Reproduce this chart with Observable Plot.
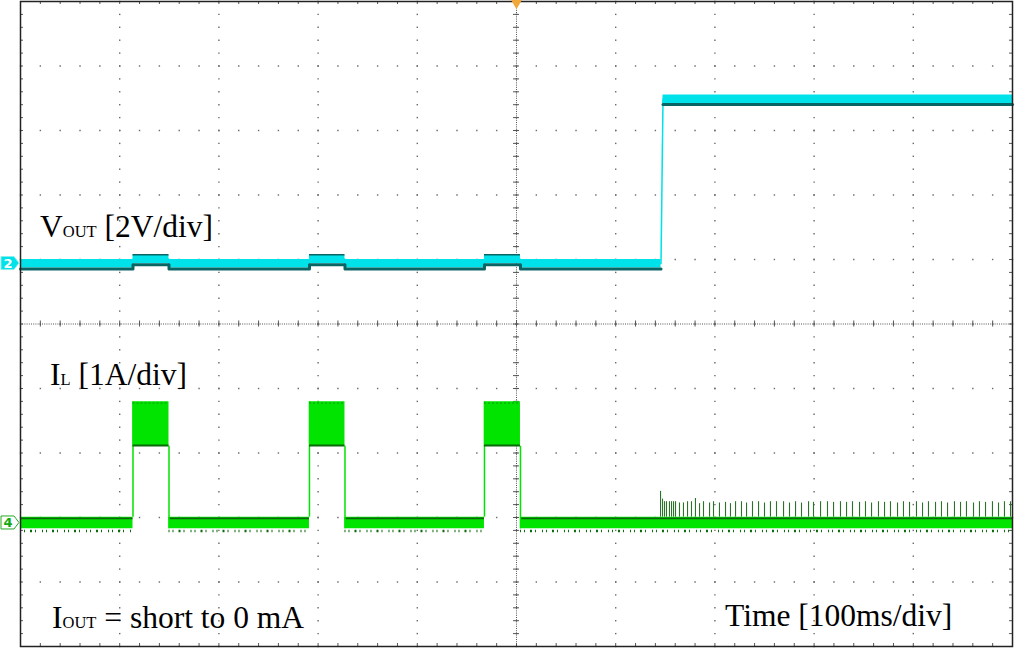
<!DOCTYPE html>
<html><head><meta charset="utf-8">
<script src="https://cdn.jsdelivr.net/npm/d3@7"></script>
<script src="https://cdn.jsdelivr.net/npm/@observablehq/plot@0.6"></script>
<style>
html,body{margin:0;padding:0;background:#fff;}
#chart svg{display:block;}
</style>
</head><body><div id="chart"></div>
<script>
// ---------------- data (read from the scope capture) ----------------
const msPerDiv = 100;            // Time [100ms/div]
const voltsPerDiv = 2;           // VOUT [2V/div]
const ampsPerDiv = 1;            // IL [1A/div]
const ch2GroundDiv = 0.938;      // CH2 ground marker (divisions from centre)
const ch4GroundDiv = -3.085;     // CH4 ground marker

// hiccup pulses (short circuit)
const pulseStartMs = [113.4, 291.3, 467.7];
const pulseEndMs   = [149.7, 327.1, 504.0];
const ilPulseHighA = [1.88, 1.88, 1.88];
const ilPulseLowA  = [1.19, 1.19, 1.19];
const voutPulseV   = [0.13, 0.13, 0.13];

// short removed -> output rises
const voutStepMs = [645.7, 647.7];
const voutLevelV = [0.0, 5.1];

// inductor-current spikes after the short is removed (0 mA load, pulse skipping)
const ilSpikeMs = [645.2, 647.2, 649.2, 651.2, 654.2, 656.3, 658.3, 660.3, 664.3, 668.3, 672.4, 676.4,
  680.4, 684.5, 688.5, 694.6, 698.6, 704.6, 710.7, 715.7, 720.8, 726.8, 731.9, 737.9, 744.0, 750.0,
  756.0, 762.1, 769.2, 775.2, 781.3, 787.3, 794.4, 799.4, 806.5, 813.5, 819.6, 826.6, 832.7, 838.7,
  845.8, 851.8, 857.9, 864.9, 871.0, 877.0, 884.1, 890.1, 896.2, 903.2, 909.3, 915.3, 922.4, 928.4,
  934.5, 941.5, 947.6, 953.6, 960.7, 966.7, 972.8, 979.8, 985.9, 991.9, 998.0];
const ilSpikeA = [0.49, 0.37, 0.33, 0.33, 0.33, 0.33, 0.33, 0.33, 0.31, 0.31, 0.33, 0.33,
  0.38, 0.30, 0.33, 0.31, 0.33, 0.31, 0.32, 0.30, 0.33, 0.33, 0.31, 0.33, 0.33, 0.31,
  0.33, 0.33, 0.33, 0.31, 0.33, 0.31, 0.33, 0.32, 0.33, 0.33, 0.32, 0.33, 0.32, 0.33,
  0.32, 0.33, 0.31, 0.33, 0.32, 0.33, 0.31, 0.33, 0.32, 0.33, 0.31, 0.33, 0.32, 0.33,
  0.31, 0.33, 0.32, 0.33, 0.31, 0.33, 0.32, 0.33, 0.31, 0.33, 0.33];

// ---------------- derived tables ----------------
const v2div = v => ch2GroundDiv + v / voltsPerDiv;
const a2div = a => ch4GroundDiv + a / ampsPerDiv;
const ILBAND = 0.09; // half width of the noisy IL baseline (A)
const END = 10 * msPerDiv;

// VOUT centre line
const vPts = [{t: 0, v: voutLevelV[0], seg: 0}];
pulseStartMs.forEach((s, i) => {
  vPts.push({t: s, v: voutLevelV[0], seg: 0}, {t: s, v: voutPulseV[i], seg: 0},
            {t: pulseEndMs[i], v: voutPulseV[i], seg: 0}, {t: pulseEndMs[i], v: voutLevelV[0], seg: 0});
});
vPts.push({t: voutStepMs[0], v: voutLevelV[0], seg: 0}, {t: voutStepMs[1], v: voutLevelV[1], seg: 1},
          {t: END, v: voutLevelV[1], seg: 1});

// IL envelope
const iPts = [{t: 0, lo: -ILBAND, hi: ILBAND}];
pulseStartMs.forEach((s, i) => {
  iPts.push({t: s, lo: -ILBAND, hi: ILBAND}, {t: s, lo: ilPulseLowA[i], hi: ilPulseHighA[i]},
            {t: pulseEndMs[i], lo: ilPulseLowA[i], hi: ilPulseHighA[i]}, {t: pulseEndMs[i], lo: -ILBAND, hi: ILBAND});
});
iPts.push({t: END, lo: -ILBAND, hi: ILBAND});
// baseline (between pulses) segments
const segStarts = [0, ...pulseEndMs];
const segEnds = [...pulseStartMs, END];
const baseSegs = segStarts.map((s, i) => ({s, e: segEnds[i]}));
const pulses = pulseStartMs.map((s, i) => ({s, e: pulseEndMs[i], lo: ilPulseLowA[i], hi: ilPulseHighA[i], v: voutPulseV[i]}));
const spikes = ilSpikeMs.map((t, i) => ({t, a: ilSpikeA[i]}));

// grid helpers
const majorX = d3.range(0, END + 1, msPerDiv);
const minorX = d3.range(0, END + 1, msPerDiv / 5);
const majorY = d3.range(-5, 6, 1);
const minorY = d3.range(0, 51).map(k => -5 + k * 0.2);

const CYAN = "#00e2ea", TEAL = "#0b6464", GREEN = "#00e400", DKGREEN = "#0b6a0b", GRID = "#6a6a6a";
const tx = 3 * msPerDiv / 99.2;   // ~3 px in time units
const ty = 3 / 64.5;              // ~3 px in divisions

const plot = Plot.plot({
  width: 1016, height: 648,
  marginLeft: 20, marginRight: 4, marginTop: 1, marginBottom: 2,
  x: {domain: [0, END], axis: null},
  y: {domain: [-5, 5], axis: null},
  style: {background: "#fff"},
  marks: [
    // dotted graticule
    Plot.dot(d3.cross(majorX.slice(1, -1), minorY), {x: d => d[0], y: d => d[1], r: 0.8, fill: GRID, symbol: "square"}),
    Plot.dot(d3.cross(minorX, majorY.slice(1, -1)), {x: d => d[0], y: d => d[1], r: 0.8, fill: GRID, symbol: "square"}),
    // centre cross
    Plot.ruleX([5 * msPerDiv], {stroke: "#555", strokeDasharray: "1,1.2"}),
    Plot.ruleY([0], {stroke: "#555", strokeDasharray: "1,1.2"}),
    Plot.ruleY(minorY, {y: d => d, x1: 5 * msPerDiv - tx, x2: 5 * msPerDiv + tx, stroke: "#555"}),
    Plot.ruleX(minorX, {x: d => d, y1: -ty, y2: ty, stroke: "#555"}),
    // border minor ticks
    Plot.ruleX(minorX, {x: d => d, y1: 5, y2: 5 - ty, stroke: "#555"}),
    Plot.ruleX(minorX, {x: d => d, y1: -5, y2: -5 + ty, stroke: "#555"}),
    Plot.ruleY(minorY, {y: d => d, x1: 0, x2: tx, stroke: "#555"}),
    Plot.ruleY(minorY, {y: d => d, x1: END, x2: END - tx, stroke: "#555"}),

    // ---- CH4 inductor current ----
    Plot.ruleX(spikes, {x: "t", y1: a2div(ILBAND), y2: d => a2div(d.a), stroke: "#2a742a", strokeWidth: 1.1}),
    Plot.areaY(iPts, {x: "t", y1: d => a2div(d.lo), y2: d => a2div(d.hi), fill: GREEN, curve: "linear"}),
    Plot.ruleY(baseSegs, {x1: "s", x2: "e", y: () => a2div(0.072), stroke: DKGREEN, strokeWidth: 1.6}),
    Plot.ruleY(baseSegs, {x1: "s", x2: "e", y: () => a2div(-ILBAND - 0.035), stroke: DKGREEN, strokeWidth: 2.5, strokeDasharray: "1,3,1,5,2,3,1,6"}),
    Plot.ruleX(pulses, {x: "s", y1: a2div(ILBAND), y2: d => a2div(d.hi), stroke: GREEN, strokeWidth: 1.5}),
    Plot.ruleX(pulses, {x: "e", y1: a2div(-ILBAND), y2: d => a2div(d.lo), stroke: GREEN, strokeWidth: 1.5}),
    Plot.ruleY(pulses, {x1: "s", x2: "e", y: d => a2div(d.lo) + 0.01, stroke: DKGREEN, strokeWidth: 2}),
    Plot.ruleY(pulses, {x1: "s", x2: "e", y: d => a2div(d.hi) - 0.02, stroke: "#0a9a0a", strokeWidth: 1.2, strokeDasharray: "2,2"}),

    // ---- CH2 output voltage ----
    Plot.line(vPts, {x: "t", y: d => v2div(d.v), stroke: CYAN, strokeWidth: 1.5}),
    Plot.areaY(vPts, {x: "t", y1: d => v2div(d.v) - 0.068, y2: d => v2div(d.v) + 0.062, fill: CYAN, curve: "linear"}),
    Plot.line(vPts, {x: "t", y: d => v2div(d.v) - 0.085, z: "seg", stroke: TEAL, strokeWidth: 3}),
    Plot.ruleY(pulses, {x1: "s", x2: "e", y: d => v2div(d.v) + 0.07, stroke: TEAL, strokeWidth: 1.5}),

    Plot.frame({stroke: "#222", strokeWidth: 1.5}),
    // trigger position marker
    Plot.dot([5 * msPerDiv], {x: d => d, y: 5, r: 5, symbol: "triangle", rotate: 180, fill: "#f2a83a"})
  ]
});
document.getElementById("chart").appendChild(plot);

// ---- labels and channel markers (placed through the plot scales) ----
const sx = plot.scale("x"), sy = plot.scale("y");
const svg = d3.select(plot);
const font = "'Liberation Serif','Times New Roman',serif";
function label(tMs, yDiv, parts) {
  const t = svg.append("text").attr("x", sx.apply(tMs)).attr("y", sy.apply(yDiv))
    .attr("text-anchor", "start")
    .attr("font-family", font).attr("font-size", 31.5).attr("fill", "#000");
  parts.forEach(([s, sub]) => {
    const ts = t.append("tspan").text(s);
    if (sub) ts.attr("font-size", 16.5);
  });
}
label(20.2, 1.335, [["V"], ["OUT", 1], [" [2V/div]"]]);
label(30.3, -0.96, [["I"], ["L", 1], [" [1A/div]"]]);
label(32.3, -4.715, [["I"], ["OUT", 1], [" = short to 0 mA"]]);
label(710.7, -4.69, [["Time [100ms/div]"]]);

function marker(yDiv, txt, fill, stroke, color) {
  const y = sy.apply(yDiv);
  svg.append("path").attr("d", `M1,${y - 6.5}H14L19,${y}L14,${y + 6.5}H1Z`)
    .attr("fill", fill).attr("stroke", stroke).attr("stroke-width", 1);
  svg.append("text").attr("x", 8).attr("y", y + 5).attr("text-anchor", "middle")
    .attr("font-family", "'DejaVu Sans',sans-serif").attr("font-weight", "bold").attr("font-size", 13)
    .attr("fill", color).text(txt);
}
marker(ch2GroundDiv, "2", CYAN, "#8ee", "#fff");
marker(ch4GroundDiv, "4", "#fff", "#2a2", "#1a1");
</script>
</body></html>
